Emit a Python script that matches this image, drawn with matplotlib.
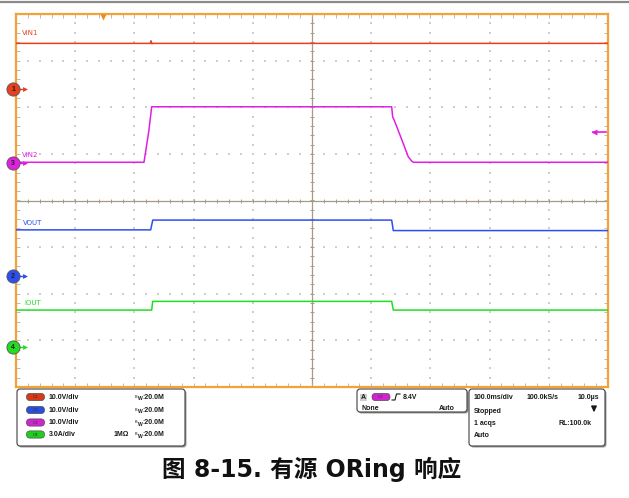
import numpy as np
import matplotlib
matplotlib.use("Agg")
import matplotlib.pyplot as plt
from matplotlib.patches import FancyBboxPatch

# ---------------- data (time in ms, values in channel units) ----------------
t_vin1 = [0, 227, 228, 229.5, 231, 1000]
vin1 = [9.8, 9.8, 10.35, 9.7, 9.8, 9.8]

t_vin2 = [0, 216.2, 224.6, 229.2, 634.6, 636.3, 639.0, 654.2, 662.7, 668.4, 671.1, 1000]
vin2 = [0.2, 0.2, 7.1, 12.1, 12.1, 9.9, 9.2, 4.2, 1.35, 0.45, 0.2, 0.2]

t_vout = [0, 227.5, 231, 634.6, 637.3, 1000]
vout = [9.9, 9.9, 12.0, 12.0, 9.75, 9.75]

t_iout = [0, 229.2, 230.9, 634.6, 637.3, 1000]
iout = [2.4, 2.4, 2.96, 2.96, 2.4, 2.4]

channels = ["1", "2", "3", "4"]
ch_offsets = [2.39, -1.62, 0.80, -3.15]      # ground marker position, divisions
ch_scales = [10.0, 10.0, 10.0, 3.0]          # units per division
ch_colors = ["#e8401e", "#2d4ff0", "#e020e0", "#22dd22"]
trace_labels = ["VIN1", "VOUT", "VIN2", "IOUT"]

trig_pos_ms = 147
trig_arrow_level = 6.7   # V on C3

settings_rows = [("C1", "10.0V/div", ""), ("C2", "10.0V/div", ""),
                 ("C3", "10.0V/div", ""), ("C4", "3.0A/div", "1MΩ")]
bw_text = "20.0M"
title = "图 8-15. 有源 ORing 响应"

# ---------------- figure ----------------
W, H = 629, 498
fig = plt.figure(figsize=(W / 100, H / 100), dpi=100)

ov = fig.add_axes([0, 0, 1, 1], zorder=0)
ov.set_xlim(0, W)
ov.set_ylim(H, 0)
ov.axis("off")

L, R, T, B = 16, 608, 14, 387
ax = fig.add_axes([L / W, 1 - B / H, (R - L) / W, (B - T) / H], zorder=1)
ax.set_xlim(0, 1000)
ax.set_ylim(-4, 4)

frame_c = "#f2a236"
for s in ax.spines.values():
    s.set_color(frame_c)
    s.set_linewidth(1.6)

ax.set_xticks(np.arange(0, 1001, 20))
ax.set_yticks(np.arange(-4, 4.001, 0.2))
ax.tick_params(direction="in", length=3, width=0.6, color="#b0b0b0",
               top=True, right=True, labelbottom=False, labelleft=False)

# dotted graticule
gx, gy = [], []
for k in range(1, 10):
    if k == 5:
        continue
    for y in np.arange(-3.8, 3.81, 0.2):
        gx.append(k * 100); gy.append(y)
for j in range(-3, 4):
    if j == 0:
        continue
    for x in np.arange(20, 981, 20):
        gx.append(x); gy.append(j)
ax.scatter(gx, gy, s=1.0, marker="s", color="#cdcdcd", linewidths=0, zorder=1)

# centre cross with ticks
cc = "#a39d86"
ax.axhline(0, color=cc, lw=0.9, zorder=1)
ax.axvline(500, color=cc, lw=0.9, zorder=1)
xt = np.arange(20, 981, 20)
ax.scatter(xt, np.zeros_like(xt), marker="|", s=12, color=cc, linewidths=0.7, zorder=1)
yt = np.arange(-3.8, 3.81, 0.2)
ax.scatter(np.full_like(yt, 500), yt, marker="_", s=12, color=cc, linewidths=0.7, zorder=1)

# traces
series = [(t_vin1, vin1, 0), (t_vout, vout, 1), (t_vin2, vin2, 2), (t_iout, iout, 3)]
for t, v, i in series:
    y = ch_offsets[i] + np.asarray(v) / ch_scales[i]
    ax.plot(t, y, color=ch_colors[i], lw=1.1, zorder=3)

# trace labels
lab_pos = {0: (10, 3.585), 1: (11, -0.48), 2: (10, 0.975), 3: (14, -2.19)}
for i, (xx, yy) in lab_pos.items():
    ax.text(xx, yy, trace_labels[i], color=ch_colors[i], fontsize=5,
            family="Liberation Sans Narrow", va="center", ha="left", zorder=4)

# channel ground markers
yt_tr = ax.get_yaxis_transform()
for i, ch in enumerate(channels):
    yo = ch_offsets[i]
    ax.plot([-0.004, 0.016], [yo, yo], transform=yt_tr, color=ch_colors[i],
            lw=1.0, clip_on=False, zorder=5)
    ax.plot([0.0155], [yo], marker=">", ms=3.5, color=ch_colors[i],
            transform=yt_tr, clip_on=False, zorder=5, mec="none")
    ax.plot([-0.005], [yo], marker="o", ms=9.5, color=ch_colors[i],
            mec="#555555", mew=0.6, transform=yt_tr, clip_on=False, zorder=6)
    ax.text(-0.005, yo, ch, transform=yt_tr, fontsize=5, fontweight="bold",
            color="#202020", ha="center", va="center", zorder=7,
            family="Liberation Sans")

# trigger position marker (top) and trigger level arrow (right)
ax.plot([trig_pos_ms], [3.93], marker="v", ms=5, color="#f28a1a", mec="none",
        clip_on=False, zorder=6)
ylev = ch_offsets[2] + trig_arrow_level / ch_scales[2]
ax.plot([975, 996], [ylev, ylev], color=ch_colors[2], lw=1.2, zorder=5)
ax.plot([977], [ylev], marker="<", ms=4, color=ch_colors[2], mec="none", zorder=5)

# ---------------- overlay: top bar, panels, title ----------------
ov.plot([0, W], [2, 2], color="#8a8a8a", lw=1.6, solid_capstyle="butt")

def box(x0, y0, x1, y1):
    sh = FancyBboxPatch((x0 + 1.5, y0 + 1.5), x1 - x0, y1 - y0,
                        boxstyle="round,pad=0,rounding_size=3",
                        fc="#9a9a9a", ec="none", zorder=1)
    ov.add_patch(sh)
    p = FancyBboxPatch((x0, y0), x1 - x0, y1 - y0,
                       boxstyle="round,pad=0,rounding_size=3",
                       fc="white", ec="#404040", lw=0.8, zorder=2)
    ov.add_patch(p)

def pill(cx, cy, color, txt):
    e = FancyBboxPatch((cx - 9, cy - 3.6), 18, 7.2,
                       boxstyle="round,pad=0,rounding_size=3.6",
                       fc=color, ec="#505050", lw=0.5, zorder=3)
    ov.add_patch(e)
    ov.text(cx, cy + 0.3, txt, fontsize=3.2, color="#303030", ha="center",
            va="center", zorder=4, family="Liberation Sans")

tf = dict(fontsize=5, fontweight="bold", color="#1a1a1a", va="center",
          family="Liberation Sans", zorder=4)

box(17, 389, 185, 446)
row_y = [397, 410, 422.5, 434.5]
pill_cols = ["#d63a1a", "#2a4fe0", "#d024d0", "#1fcf1f"]
for (c, s1, s2), yy, pc in zip(settings_rows, row_y, pill_cols):
    pill(35.5, yy, pc, c)
    ov.text(48.5, yy, s1, **tf)
    if s2:
        ov.text(114, yy, s2, **tf)
    ov.text(134, yy, r"$^{\mathrm{B}}$", fontsize=4, fontweight="bold",
            color="#1a1a1a", va="center", zorder=4)
    ov.text(137.5, yy + 1.5, "W", fontsize=3.6, fontweight="bold",
            color="#1a1a1a", va="center", family="Liberation Sans", zorder=4)
    ov.text(142.5, yy, ":" + bw_text, **tf)

box(357, 389, 467, 412)
ov.add_patch(FancyBboxPatch((360, 393.5), 7, 7, boxstyle="square,pad=0",
                            fc="#d0d0d0", ec="none", zorder=3))
ov.text(363.5, 397.3, "A", ha="center", **tf)
pill(381, 397, "#d024d0", "C3")
ov.plot([392, 395, 396.5, 400], [400, 400, 394, 394], color="#1a1a1a", lw=0.8, zorder=4)
ov.text(403, 397, "8.4V", **tf)
ov.text(361, 408, "None", **tf)
ov.text(455, 408, "Auto", ha="right", **tf)

box(469, 389, 605, 446)
ov.text(474, 397, "100.0ms/div", **tf)
ov.text(527, 397, "100.0kS/s", **tf)
ov.text(599, 397, "10.0µs", ha="right", **tf)
ov.text(474, 411, "Stopped", **tf)
ov.annotate("", xy=(594, 415), xytext=(594, 406),
            arrowprops=dict(arrowstyle="-|>,head_width=0.15,head_length=0.3",
                            color="#1a1a1a", lw=1.2), zorder=4)
ov.text(474, 423, "1 acqs", **tf)
ov.text(592, 423, "RL:100.0k", ha="right", **tf)
ov.text(474, 435, "Auto", **tf)

ov.text(312, 469, title, fontsize=17, fontweight="bold", ha="center", va="center",
        family=["DejaVu Sans", "Noto Sans CJK SC"], color="#111111")

fig.savefig("out.png", dpi=100, facecolor="white")
